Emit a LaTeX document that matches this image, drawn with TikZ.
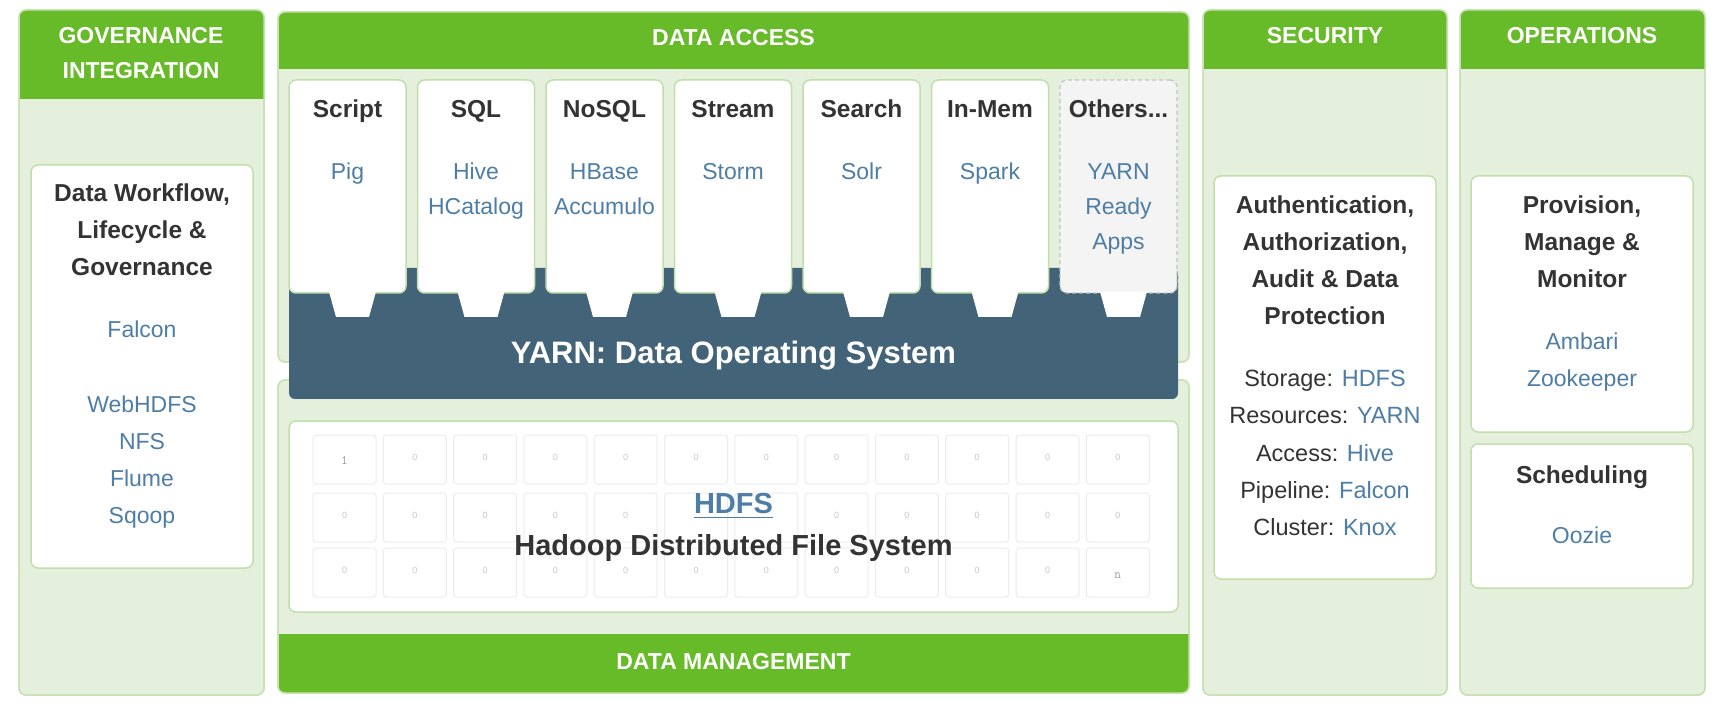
\documentclass[tikz,border=0pt]{standalone}
\usepackage{fontspec}
\setmainfont{Liberation Sans}
\definecolor{hgreen}{RGB}{103,186,40}
\definecolor{pfill}{RGB}{229,240,220}
\definecolor{pline}{RGB}{200,226,180}
\definecolor{bline}{RGB}{192,223,170}
\definecolor{yarnc}{RGB}{67,100,120}
\definecolor{tblue}{RGB}{78,125,166}
\definecolor{tdark}{RGB}{51,51,51}
\definecolor{ofill}{RGB}{244,244,244}
\definecolor{oline}{RGB}{195,195,195}
\definecolor{cellline}{RGB}{236,236,236}
\definecolor{celltxt}{RGB}{196,200,210}
\tikzset{
  panel/.style={draw=pline, fill=pfill, line width=1.5pt, rounded corners=7pt, anchor=north west, inner sep=0pt, outer sep=0pt},
  wbox/.style={draw=bline, fill=white, line width=1.5pt, rounded corners=7pt, anchor=north west, inner sep=0pt, outer sep=0pt},
  obox/.style={draw=oline, fill=ofill, line width=1.2pt, dash pattern=on 4pt off 3pt, rounded corners=7pt, anchor=north west, inner sep=0pt, outer sep=0pt},
  hdrtxt/.style={text=white, font=\fontsize{23}{28}\selectfont\bfseries, inner sep=0pt, anchor=base},
  ttl/.style={text=tdark, font=\fontsize{24.5}{30}\selectfont\bfseries, inner sep=0pt, anchor=base},
  itm/.style={text=tblue, font=\fontsize{23}{28}\selectfont, inner sep=0pt, anchor=base},
  lbl/.style={text=tdark, font=\fontsize{23.5}{28}\selectfont, inner sep=0pt, anchor=base},
  cell/.style={draw=cellline, line width=1pt, rounded corners=3pt, anchor=north west, inner sep=0pt, outer sep=0pt, minimum width=63pt, minimum height=49pt},
  celltext/.style={text=celltxt, font=\fontsize{9}{10}\selectfont, inner sep=0pt},
  tabfill/.style={fill=white},
  hdrfill/.style={fill=hgreen}
}
\begin{document}
\begin{tikzpicture}[x=1pt,y=-1pt]
\useasboundingbox (0,0) rectangle (1724,708);

% ---------- panels ----------
\node[panel, minimum width=245pt, minimum height=685pt] (gov) at (19,10) {};
\node[panel, minimum width=911pt, minimum height=350pt] (da) at (278,12) {};
\node[panel, minimum width=911pt, minimum height=313pt] (dm) at (278,380) {};
\node[panel, minimum width=244pt, minimum height=685pt] (sec) at (1203,10) {};
\node[panel, minimum width=245pt, minimum height=685pt] (ops) at (1460,10) {};

% green headers
\path[hdrfill] (19,99) [rounded corners=7pt] -- (19,10) -- (264,10) [sharp corners] -- (264,99) -- cycle;
\path[hdrfill] (278,69) [rounded corners=7pt] -- (278,12) -- (1189,12) [sharp corners] -- (1189,69) -- cycle;
\path[hdrfill] (278,634) [rounded corners=7pt] -- (278,693) -- (1189,693) [sharp corners] -- (1189,634) -- cycle;
\path[hdrfill] (1203,69) [rounded corners=7pt] -- (1203,10) -- (1447,10) [sharp corners] -- (1447,69) -- cycle;
\path[hdrfill] (1460,69) [rounded corners=7pt] -- (1460,10) -- (1705,10) [sharp corners] -- (1705,69) -- cycle;
\foreach \p in {gov,da,dm,sec,ops}
  \draw[pline, line width=1.5pt, rounded corners=7pt] (\p.north west) rectangle (\p.south east);

% header texts
\node[hdrtxt] (govh1) at (141,44) {GOVERNANCE};
\node[hdrtxt] (govh2) at (141,79) {INTEGRATION};
\node[hdrtxt] (dah) at (733.5,46) {DATA ACCESS};
\node[hdrtxt] (dmh) at (733.5,669) {DATA MANAGEMENT};
\node[hdrtxt] (sech) at (1325,44) {SECURITY};
\node[hdrtxt] (opsh) at (1582,44) {OPERATIONS};

% ---------- YARN ----------
\fill[yarnc, rounded corners=6pt] (289,268) rectangle (1178,399);

\foreach \i in {0,...,5}{
  \node[wbox, minimum width=117pt, minimum height=213pt] (b\i) at (289+128.5*\i,80) {};
}
\node[obox, minimum width=117pt, minimum height=213pt] (b6) at (289+128.5*6,80) {};
\foreach \i in {0,...,6}{
  \pgfmathsetmacro{\cx}{289+128.5*\i+58.5+5}
  \path[tabfill] (\cx-23.5,291.6) -- (\cx+23.5,291.6) -- (\cx+16.5,317) -- (\cx-16.5,317) -- cycle;
}

\node[ttl] (bt0) at (347.5,118) {Script};
\node[ttl] (bt1) at (476,118) {SQL};
\node[ttl] (bt2) at (604.5,118) {NoSQL};
\node[ttl] (bt3) at (733,118) {Stream};
\node[ttl] (bt4) at (861.5,118) {Search};
\node[ttl] (bt5) at (990,118) {In-Mem};
\node[ttl] (bt6) at (1118.5,118) {Others...};

\node[itm] (c0a) at (347.5,180) {Pig};
\node[itm] (c1a) at (476,180) {Hive};
\node[itm] (c1b) at (476,215) {HCatalog};
\node[itm] (c2a) at (604.5,180) {HBase};
\node[itm] (c2b) at (604.5,215) {Accumulo};
\node[itm] (c3a) at (733,180) {Storm};
\node[itm] (c4a) at (861.5,180) {Solr};
\node[itm] (c5a) at (990,180) {Spark};
\node[itm] (c6a) at (1118.5,180) {YARN};
\node[itm] (c6b) at (1118.5,215) {Ready};
\node[itm] (c6c) at (1118.5,250) {Apps};

\node[anchor=base, inner sep=0pt, text=white, font=\fontsize{31}{36}\selectfont\bfseries] (yarntxt) at (733.5,364) {YARN: Data Operating System};

% ---------- HDFS ----------
\node[wbox, minimum width=889pt, minimum height=191pt] (hdfsbox) at (289,421) {};
\foreach \r/\ry in {0/435,1/493,2/548}{
  \foreach \j in {0,...,11}{
    \node[cell] (cell-\r-\j) at (313+70.3*\j,\ry) {};
  }
}
\foreach \r in {0,1,2}{
  \foreach \j in {0,...,11}{
    \ifnum\r\j=0
      \node[celltext, text=celltxt!80!black, font=\fontsize{13}{14}\ttfamily] (ct-\r-\j) at ([yshift=-1pt]cell-\r-\j.center) {1};
    \else\ifnum\r\j=211
      \node[celltext, text=celltxt!80!black, font=\fontsize{13}{14}\ttfamily] (ct-\r-\j) at ([yshift=-3pt]cell-\r-\j.center) {n};
    \else\ifnum\r\j=15
    \else\ifnum\r\j=16
    \else
      \node[celltext] (ct-\r-\j) at ([yshift=2pt]cell-\r-\j.center) {0};
    \fi\fi\fi\fi
  }
}
\node[anchor=base, inner sep=0pt, text=tblue, font=\fontsize{29}{34}\selectfont\bfseries] (hdfs) at (733.5,513) {HDFS};
\draw[tblue, line width=1.8pt] ([yshift=-4pt]hdfs.south west) -- ([yshift=-4pt]hdfs.south east);
\node[anchor=base, inner sep=0pt, text=tdark, font=\fontsize{29}{34}\selectfont\bfseries] (hdfsname) at (733.5,555) {Hadoop Distributed File System};

% ---------- Governance ----------
\node[wbox, minimum width=222pt, minimum height=403pt] (govbox) at (31,165) {};
\node[ttl] (g1) at (142,202) {Data Workflow,};
\node[ttl] (g2) at (142,239) {Lifecycle \&};
\node[ttl] (g3) at (142,276) {Governance};
\node[itm] (g4) at (142,338) {Falcon};
\node[itm] (g5) at (142,413) {WebHDFS};
\node[itm] (g6) at (142,449) {NFS};
\node[itm] (g7) at (142,486) {Flume};
\node[itm] (g8) at (142,523) {Sqoop};

% ---------- Security ----------
\node[wbox, minimum width=222pt, minimum height=403pt] (secbox) at (1214,176) {};
\node[ttl] (s1) at (1325,214) {Authentication,};
\node[ttl] (s2) at (1325,251) {Authorization,};
\node[ttl] (s3) at (1325,288) {Audit \& Data};
\node[ttl] (s4) at (1325,325) {Protection};
\node[lbl] (s5) at (1325,387) {Storage: \textcolor{tblue}{HDFS}};
\node[lbl] (s6) at (1325,424) {Resources: \textcolor{tblue}{YARN}};
\node[lbl] (s7) at (1325,461) {Access: \textcolor{tblue}{Hive}};
\node[lbl] (s8) at (1325,498) {Pipeline: \textcolor{tblue}{Falcon}};
\node[lbl] (s9) at (1325,535) {Cluster: \textcolor{tblue}{Knox}};

% ---------- Operations ----------
\node[wbox, minimum width=222pt, minimum height=256pt] (opsbox1) at (1471,176) {};
\node[wbox, minimum width=222pt, minimum height=144pt] (opsbox2) at (1471,444) {};
\node[ttl] (o1) at (1582,214) {Provision,};
\node[ttl] (o2) at (1582,251) {Manage \&};
\node[ttl] (o3) at (1582,288) {Monitor};
\node[itm] (o4) at (1582,350) {Ambari};
\node[itm] (o5) at (1582,387) {Zookeeper};
\node[ttl] (o6) at (1582,483) {Scheduling};
\node[itm] (o7) at (1582,543) {Oozie};
\end{tikzpicture}
\end{document}
